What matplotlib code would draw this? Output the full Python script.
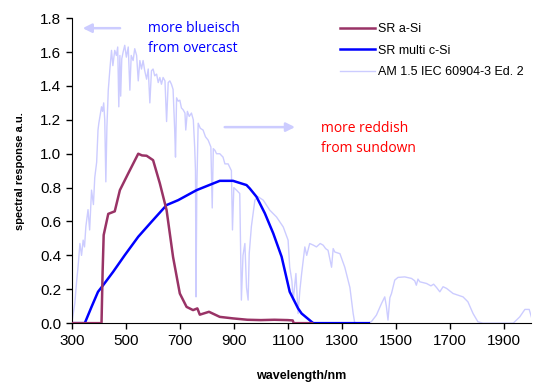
import matplotlib.pyplot as plt

# SR a-Si (wavelength nm, response)
asi_wl = [300, 410, 414, 418, 435, 459, 478, 509, 546, 560, 577, 601, 626, 651, 675, 700,
          725, 749, 765, 774, 808, 848, 897, 950, 1000, 1050, 1100, 1118, 1122, 1190]
asi_sr = [0, 0, 0.30, 0.52, 0.645, 0.66, 0.785, 0.884, 1.0, 0.99, 0.988, 0.962, 0.825, 0.667,
          0.39, 0.175, 0.096, 0.077, 0.087, 0.05, 0.067, 0.037, 0.028, 0.02, 0.018, 0.02,
          0.018, 0.016, 0.0, 0.0]

# SR multi c-Si
csi_wl = [300, 348, 373, 397, 416, 453, 496, 546, 595, 651, 694, 762, 848, 897, 947, 959,
          984, 1015, 1046, 1077, 1107, 1138, 1151, 1194, 1400]
csi_sr = [0, 0, 0.096, 0.185, 0.224, 0.303, 0.401, 0.51, 0.598, 0.697, 0.726, 0.785, 0.84,
          0.84, 0.815, 0.795, 0.746, 0.648, 0.53, 0.392, 0.185, 0.087, 0.057, 0.0, 0.0]

# AM 1.5 spectrum (scaled)
am_wl = [300, 311, 318, 323, 330, 336, 342, 347, 352, 360, 366, 373, 380, 385, 392, 397,
         400, 404, 410, 414, 418, 422, 426, 430, 435, 441, 447, 452, 459, 465, 470, 474,
         478, 481, 485, 490, 496, 502, 509, 515, 520, 527, 533, 540, 546, 552, 558, 564,
         570, 577, 583, 589, 595, 601, 607, 614, 620, 626, 632, 638, 645, 651, 657, 663,
         669, 675, 681, 684, 688, 694, 700, 706, 712, 719, 722, 728, 735, 743, 750, 755,
         758, 760, 763, 768, 776, 786, 795, 805, 815, 820, 824, 830, 836, 848, 860, 867,
         879, 885, 891, 895, 900, 910, 922, 928, 934, 941, 947, 953, 957, 965, 978, 990,
         1009, 1033, 1058, 1083, 1101, 1107, 1115, 1120, 1130, 1138, 1145, 1151, 1163, 1170,
         1181, 1195, 1206, 1220, 1231, 1240, 1249, 1262, 1268, 1274, 1293, 1311, 1330, 1342,
         1348, 1400, 1410, 1428, 1440, 1447, 1459, 1465, 1471, 1478, 1484, 1496, 1508, 1533,
         1558, 1570, 1576, 1582, 1589, 1614, 1630, 1640, 1651, 1663, 1675, 1688, 1712, 1749,
         1767, 1786, 1804, 1823, 1935, 1959, 1978, 1994, 2002]
am_sr = [0, 0.116, 0.25, 0.33, 0.47, 0.40, 0.49, 0.45, 0.57, 0.67, 0.55, 0.785, 0.70, 0.86,
         0.95, 1.14,
         1.18, 1.22, 1.277, 1.25, 1.30, 1.20, 0.834, 1.16, 1.375, 1.50, 1.61, 1.52, 1.61, 1.58,
         1.63, 1.277, 1.58, 1.34, 1.56, 1.60, 1.64, 1.57, 1.63, 1.375, 1.58, 1.55, 1.62, 1.58,
         1.43, 1.55, 1.50, 1.55, 1.49, 1.44, 1.50, 1.30, 1.49, 1.50, 1.46, 1.47, 1.42, 1.45,
         1.41, 1.45, 1.43, 1.19, 1.42, 1.43, 1.41, 1.38, 1.14, 0.98, 1.33, 1.31, 1.316, 1.27,
         1.26, 1.24, 1.14, 1.25, 1.22, 1.24, 1.20, 1.04, 0.90, 0.155, 0.80, 1.18, 1.15, 1.14,
         1.10, 1.08, 1.04, 0.68, 1.03, 1.02, 1.0, 1.0, 0.98, 0.94, 0.94, 0.92, 0.90, 0.55, 0.80,
         0.785, 0.765, 0.136, 0.40, 0.47, 0.21, 0.136, 0.41, 0.57, 0.726, 0.746, 0.726, 0.667,
         0.627, 0.568, 0.49, 0.33, 0.25, 0.136, 0.293, 0.057, 0.20, 0.29, 0.45, 0.40, 0.47,
         0.46, 0.45, 0.47, 0.46, 0.44, 0.43, 0.33, 0.44, 0.42, 0.41, 0.33, 0.21, 0.057, 0.0,
         0.0, 0.01, 0.047, 0.09, 0.116, 0.155, 0.10, 0.018, 0.15, 0.175, 0.254, 0.27, 0.273,
         0.264, 0.25, 0.224, 0.26, 0.244, 0.234, 0.22, 0.23, 0.21, 0.185, 0.215, 0.205, 0.175,
         0.155, 0.126, 0.057, 0.008, 0.0, 0.0, 0.037, 0.081, 0.081, 0.037]
assert len(am_wl) == len(am_sr)

xticks = list(range(300, 2001, 200))
yticks = [0.0, 0.2, 0.4, 0.6, 0.8, 1.0, 1.2, 1.4, 1.6, 1.8]

plt.rcParams['font.family'] = ['Liberation Sans', 'DejaVu Sans']

fig = plt.figure(figsize=(5.4, 3.87), dpi=100)
ax = fig.add_axes([0.133, 0.165, 0.850, 0.788])

l3, = ax.plot(am_wl, am_sr, color='#ccccff', lw=1, zorder=1, label='AM 1.5 IEC 60904-3 Ed. 2')
l1, = ax.plot(asi_wl, asi_sr, color='#993366', lw=1.8, zorder=3, label='SR a-Si')
l2, = ax.plot(csi_wl, csi_sr, color='#0000ff', lw=1.8, zorder=2, label='SR multi c-Si')

ax.set_xlim(300, 2000)
ax.set_ylim(0, 1.8)
ax.set_xticks(xticks)
ax.set_yticks(yticks)
ax.set_yticklabels([f'{v:.1f}' for v in yticks])
ax.tick_params(labelsize=11, length=4, width=1, color='black')
for s in ['top', 'right']:
    ax.spines[s].set_visible(False)

ax.set_ylabel('spectral response a.u.', fontsize=8, fontweight='bold', labelpad=11)
ax.set_xlabel('wavelength/nm', fontsize=9, fontweight='bold', labelpad=16)

ax.legend(handles=[l1, l2, l3], loc='upper left', bbox_to_anchor=(0.56, 1.02),
          frameon=False, fontsize=9, handlelength=2.8, handletextpad=0.2, labelspacing=0.75)

# arrows and notes
ax.annotate('', xy=(330, 1.741), xytext=(489, 1.741),
            arrowprops=dict(arrowstyle='-|>', color='#ccccff', lw=1.8, mutation_scale=13))
ax.annotate('', xy=(1137, 1.157), xytext=(856, 1.157),
            arrowprops=dict(arrowstyle='-|>', color='#ccccff', lw=1.8, mutation_scale=13))
ax.text(581, 1.74, 'more blueisch', color='#0000ff', fontsize=10, family='Open Sans', va='center')
ax.text(581, 1.62, 'from overcast', color='#0000ff', fontsize=10, family='Open Sans', va='center')
ax.text(1222, 1.151, 'more reddish', color='#ff0000', fontsize=10, family='Open Sans', va='center')
ax.text(1222, 1.033, 'from sundown', color='#ff0000', fontsize=10, family='Open Sans', va='center')

fig.savefig('out.png', dpi=100)
